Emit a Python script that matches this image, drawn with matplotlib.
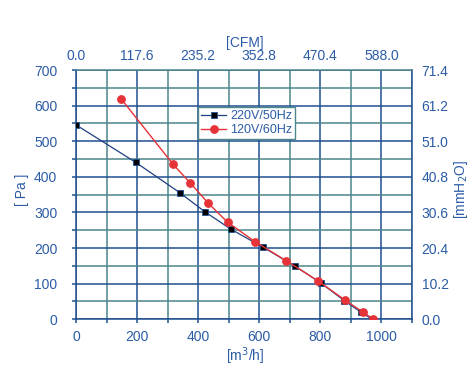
"""Fan P-Q curve: static pressure vs airflow for 220V/50Hz and 120V/60Hz."""
import matplotlib
matplotlib.use("Agg")
import matplotlib.pyplot as plt
from matplotlib.ticker import MultipleLocator

plt.rcParams["font.family"] = ["Liberation Sans", "DejaVu Sans"]

# 220V/50Hz curve (m3/h, Pa)
q_220 = [0, 195, 339, 422, 507, 613, 716, 803, 879, 933, 970]
p_220 = [546, 441, 356, 302, 253, 202, 150, 101, 52, 20, 0]
# 120V/60Hz curve (m3/h, Pa)
q_120 = [147, 317, 374, 433, 497, 586, 689, 792, 882, 938, 974]
p_120 = [620, 436, 383, 326, 272, 218, 164, 108, 53, 21, 0]

x_ticks = [0, 200, 400, 600, 800, 1000]
cfm_labels = ["0.0", "117.6", "235.2", "352.8", "470.4", "588.0"]
y_ticks = [0, 100, 200, 300, 400, 500, 600, 700]
mmh2o_labels = ["0.0", "10.2", "20.4", "30.6", "40.8", "51.0", "61.2", "71.4"]

TXT = "#2b5ca6"      # axis text blue
MAJ = "#1f4f8f"      # major grid
MIN = "#4d868c"      # minor grid (teal-grey)
RED = "#e63338"
NAVY = "#1f3f80"
FS = 10

fig = plt.figure(figsize=(4.73, 3.87), dpi=100)
ax = fig.add_axes([0.1607, 0.175, 0.7103, 0.644])

ax.plot(q_220, p_220, "-", color=NAVY, lw=0.9, marker="s", ms=3.8, mfc="black",
        mec=MAJ, mew=0.6, label="220V/50Hz", zorder=3)
ax.plot(q_120, p_120, "-", color=RED, lw=1.0, marker="o", ms=5.3, mfc=RED, mec=RED,
        label="120V/60Hz", zorder=4)

ax.set_xlim(0, 1100); ax.set_ylim(0, 700)
ax.set_xticks(x_ticks); ax.set_yticks(y_ticks)
ax.xaxis.set_minor_locator(MultipleLocator(100)); ax.yaxis.set_minor_locator(MultipleLocator(50))
ax.grid(which="major", color=MAJ, lw=1.1)
ax.grid(which="minor", color=MIN, lw=1.1)
ax.set_axisbelow(True)
for s in ax.spines.values():
    s.set_color(MAJ); s.set_linewidth(1.1)
ax.spines["top"].set_color(MIN)
ax.tick_params(which="both", colors=MAJ, labelcolor=TXT, labelsize=FS, length=3, width=1.1)
ax.tick_params(axis="x", which="major", pad=5)
ax.tick_params(axis="y", which="major", pad=10.5)

# secondary scales: CFM on top, mmH2O on right
axt = ax.secondary_xaxis("top")
axt.set_xticks(x_ticks, cfm_labels)
axt.tick_params(colors=MAJ, labelcolor=TXT, labelsize=FS, length=0, pad=5)
axt.spines["top"].set_visible(False)
axr = ax.secondary_yaxis("right")
axr.set_yticks(y_ticks, mmh2o_labels)
axr.tick_params(colors=MAJ, labelcolor=TXT, labelsize=FS, length=0, pad=7)
axr.spines["right"].set_visible(False)

fig.text(0.518, 0.888, "[CFM]", color=TXT, fontsize=FS, ha="center", va="center")
fig.text(0.518, 0.079, "[m$^3$/h]", color=TXT, fontsize=FS, ha="center", va="center")
fig.text(0.047, 0.51, "[ Pa ]", color=TXT, fontsize=FS, ha="center", va="center", rotation=90)
fig.text(0.974, 0.51, "[mmH$_2$O]", color=TXT, fontsize=FS, ha="center", va="center", rotation=90)

leg = ax.legend(loc="upper left", bbox_to_anchor=(0.363, 0.852), fontsize=9, frameon=True,
                fancybox=False, borderpad=0.25, labelspacing=0.15, handlelength=2.0,
                handletextpad=0.3, borderaxespad=0)
leg.get_frame().set_edgecolor(MIN); leg.get_frame().set_linewidth(1.0)
leg.get_frame().set_alpha(1)
for t in leg.get_texts():
    t.set_color(TXT)

fig.savefig("out.png", dpi=100)
